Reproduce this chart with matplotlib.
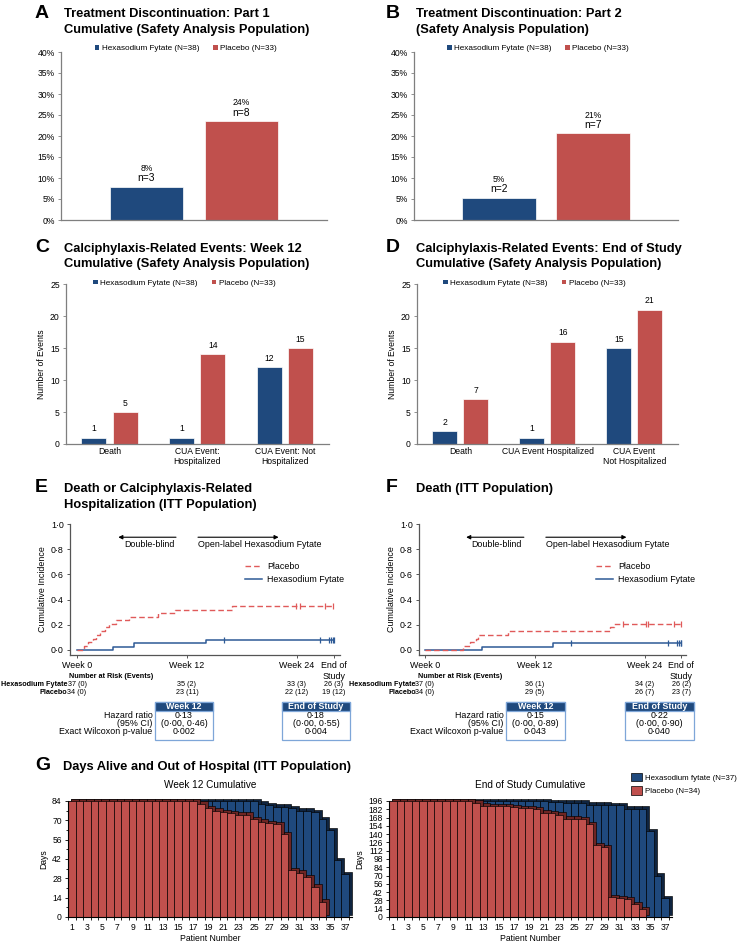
import matplotlib
matplotlib.use('Agg')
import matplotlib.pyplot as plt
import matplotlib.transforms as mtrans
from matplotlib.patches import Rectangle, Patch
from matplotlib.lines import Line2D
import numpy as np

plt.rcParams['font.family'] = ['Liberation Sans', 'DejaVu Sans']

# ---------------- data ----------------
series_names = ["Hexasodium Fytate (N=38)", "Placebo (N=33)"]

disc_p1 = [7.9, 23.5]
disc_p1_pct = ["8%", "24%"]
disc_p1_n = ["n=3", "n=8"]

disc_p2 = [5.3, 20.6]
disc_p2_pct = ["5%", "21%"]
disc_p2_n = ["n=2", "n=7"]

cats_wk12 = ["Death", "CUA Event:\nHospitalized", "CUA Event: Not\nHospitalized"]
ev_wk12_hexa = [1, 1, 12]
ev_wk12_pbo = [5, 14, 15]

cats_eos = ["Death", "CUA Event Hospitalized", "CUA Event\nNot Hospitalized"]
ev_eos_hexa = [2, 1, 15]
ev_eos_pbo = [7, 16, 21]

# KM panel E (weeks, cumulative incidence)
e_pbo_t = [0.8, 1.2, 1.7, 2.1, 2.5, 3.0, 3.5, 4.2, 5.7, 8.8, 10.7, 16.9]
e_pbo_y = [0.03, 0.06, 0.09, 0.12, 0.15, 0.18, 0.21, 0.235, 0.265, 0.295, 0.32, 0.35]
e_pbo_cens = [23.9, 24.3, 27.1, 27.9]
e_hexa_t = [3.9, 6.2, 14.1]
e_hexa_y = [0.027, 0.054, 0.08]
e_hexa_cens = [16.0, 26.5, 27.5, 27.7, 27.9, 28.0]

# KM panel F
f_pbo_t = [4.2, 4.9, 5.6, 5.8, 9.1, 20.2, 20.6]
f_pbo_y = [0.03, 0.06, 0.09, 0.12, 0.15, 0.18, 0.21]
f_pbo_cens = [21.6, 24.1, 24.4, 27.2, 28.0]
f_hexa_t = [6.2, 14.0]
f_hexa_y = [0.027, 0.054]
f_hexa_cens = [15.9, 26.5, 27.5, 27.7, 27.9, 28.0]

km_end = 28.0
km_ticks = [0, 12, 24, 28]
km_ticklabels = ["Week 0", "Week 12", "Week 24", "End of\nStudy"]
km_yticks = [0.0, 0.2, 0.4, 0.6, 0.8, 1.0]
km_yticklabels = ["0·0", "0·2", "0·4", "0·6", "0·8", "1·0"]

risk_e_hexa = ["37 (0)", "35 (2)", "33 (3)", "26 (3)"]
risk_e_pbo = ["34 (0)", "23 (11)", "22 (12)", "19 (12)"]
risk_f_hexa = ["37 (0)", "36 (1)", "34 (2)", "26 (2)"]
risk_f_pbo = ["34 (0)", "29 (5)", "26 (7)", "23 (7)"]

stat_rows = ["Hazard ratio", "(95% CI)", "Exact Wilcoxon p-value"]
e_wk12_stats = ["0·13", "(0·00, 0·46)", "0·002"]
e_eos_stats = ["0·18", "(0·00, 0·55)", "0·004"]
f_wk12_stats = ["0·15", "(0·00, 0·89)", "0·043"]
f_eos_stats = ["0·22", "(0·00, 0·90)", "0·040"]

# Days alive and out of hospital
g_wk12_hexa = [84, 84, 84, 84, 84, 84, 84, 84, 84, 84, 84, 84, 84, 84, 84, 84, 84,
               84, 84, 84, 84, 84, 84, 84, 84, 82, 81, 80, 80, 79, 77, 77, 76, 71,
               63, 41, 31]
g_wk12_pbo = [84, 84, 84, 84, 84, 84, 84, 84, 84, 84, 84, 84, 84, 84, 84, 84, 84,
              82, 79, 77, 76, 75, 74, 74, 71, 69, 68, 67, 60, 34, 32, 29, 22, 11]
g_eos_hexa = [196, 196, 196, 196, 196, 196, 196, 196, 196, 196, 196, 196, 196, 196,
              196, 196, 196, 196, 196, 196, 196, 194, 194, 193, 193, 193, 190, 190,
              190, 189, 189, 183, 183, 183, 145, 70, 32]
g_eos_pbo = [196, 196, 196, 196, 196, 196, 196, 196, 196, 196, 196, 193, 188, 187,
             187, 187, 186, 184, 184, 182, 176, 175, 173, 166, 166, 165, 157, 121,
             118, 34, 32, 30, 22, 13]
g_legend = ["Hexasodium fytate (N=37)", "Placebo (N=34)"]

# ---------------- style ----------------
W, H = 738, 943
BLUE = '#1F497D'
RED = '#C0504D'
BLUE_D = '#0F2440'
RED_D = '#6E2523'
KM_RED = '#E05A5A'
KM_BLUE = '#2E5A96'
SPINE = '#7F7F7F'
FS = 6.2

fig = plt.figure(figsize=(W / 100, H / 100), dpi=100)


def rect(x0, y0, x1, y1):
    return [x0 / W, 1 - y1 / H, (x1 - x0) / W, (y1 - y0) / H]


def ftext(x, y, s, **kw):
    kw.setdefault('va', 'center')
    fig.text(x / W, 1 - y / H, s, **kw)


def heading(x_letter, x_title, y, letter, lines):
    ftext(x_letter, y, letter, fontsize=14, fontweight='bold', ha='left')
    for i, ln in enumerate(lines):
        ftext(x_title, y + 1 + i * 15.5, ln, fontsize=9.3, fontweight='bold', ha='left')


def style_bar_axes(ax):
    for s in ['top', 'right']:
        ax.spines[s].set_visible(False)
    for s in ['left', 'bottom']:
        ax.spines[s].set_color(SPINE)
        ax.spines[s].set_linewidth(0.9)
    ax.tick_params(axis='y', labelsize=FS, length=2.5, width=0.6, color=SPINE, pad=2)
    ax.tick_params(axis='x', length=0, labelsize=FS, pad=2)


def bar_legend(ax, x, y):
    handles = [Patch(facecolor=BLUE), Patch(facecolor=RED)]
    ax.legend(handles, series_names, loc='center', bbox_to_anchor=(x, y), ncol=2,
              frameon=False, fontsize=5.9, handlelength=0.55, handleheight=0.55,
              handletextpad=0.3, columnspacing=1.7, borderpad=0, borderaxespad=0)


def pct_panel(r, vals, pct, ns):
    ax = fig.add_axes(rect(*r))
    xs = [-0.357, 0.357]
    ax.bar(xs, vals, width=0.556, color=[BLUE, RED], edgecolor='white', linewidth=0.5)
    ax.set_xlim(-1, 1)
    ax.set_ylim(0, 40)
    ax.set_yticks(range(0, 41, 5))
    ax.set_yticklabels([f"{v}%" for v in range(0, 41, 5)])
    ax.set_xticks([])
    style_bar_axes(ax)
    for x, v, p, n in zip(xs, vals, pct, ns):
        ax.annotate(n, (x, v), xytext=(0, 6.3), textcoords='offset points',
                    ha='center', va='center', fontsize=7.4)
        ax.annotate(p, (x, v), xytext=(0, 13.3), textcoords='offset points',
                    ha='center', va='center', fontsize=6.2)
    bar_legend(ax, 0.47, 1.02)
    return ax


def events_panel(r, cats, hexa, pbo):
    ax = fig.add_axes(rect(*r))
    x = np.arange(len(cats))
    ax.bar(x - 0.182, hexa, width=0.285, color=BLUE, edgecolor='white', linewidth=0.5)
    ax.bar(x + 0.176, pbo, width=0.285, color=RED, edgecolor='white', linewidth=0.5)
    for xi, v in zip(x - 0.182, hexa):
        ax.annotate(str(v), (xi, v), xytext=(0, 6.3), textcoords='offset points',
                    ha='center', va='center', fontsize=FS)
    for xi, v in zip(x + 0.176, pbo):
        ax.annotate(str(v), (xi, v), xytext=(0, 6.3), textcoords='offset points',
                    ha='center', va='center', fontsize=FS)
    ax.set_xlim(-0.5, 2.5)
    ax.set_ylim(0, 25)
    ax.set_yticks(range(0, 26, 5))
    ax.set_xticks(x)
    ax.set_xticklabels(cats, linespacing=1.15)
    ax.set_ylabel("Number of Events", fontsize=FS, labelpad=3)
    style_bar_axes(ax)
    bar_legend(ax, 0.45, 1.005)
    return ax


def km_panel(r, x_left_wk, x_right_wk, pbo_t, pbo_y, pbo_c, hx_t, hx_y, hx_c,
             leg_x, rows_hexa, rows_pbo, label_right_px, box12, boxeos, st12, steos):
    ax = fig.add_axes(rect(*r))
    pt = [0] + pbo_t + [km_end]
    py = [0] + pbo_y + [pbo_y[-1]]
    ht = [0] + hx_t + [km_end]
    hy = [0] + hx_y + [hx_y[-1]]
    ax.step(ht, hy, where='post', color=KM_BLUE, lw=1.1, zorder=3)
    ax.step(pt, py, where='post', color=KM_RED, lw=1.0, dashes=(4, 2.2), zorder=4)

    def cens_y(t, xs, ys):
        return [ys[np.searchsorted(xs, c, side='right') - 1] for c in t]
    ax.plot(hx_c, cens_y(hx_c, ht, hy), ls='none', marker='|', ms=4, mew=0.9,
            color=KM_BLUE, zorder=3)
    ax.plot(pbo_c, cens_y(pbo_c, pt, py), ls='none', marker='|', ms=4, mew=0.9,
            color=KM_RED, zorder=4)
    ax.set_xlim(x_left_wk, x_right_wk)
    ax.set_ylim(-0.04, 1.0)
    ax.set_xticks(km_ticks)
    ax.set_xticklabels(km_ticklabels, fontsize=6.4, linespacing=1.25, va='top')
    ax.set_yticks(km_yticks)
    ax.set_yticklabels(km_yticklabels, fontsize=6.4)
    ax.set_ylabel("Cumulative Incidence", fontsize=6.4, labelpad=3)
    for s in ['top', 'right']:
        ax.spines[s].set_visible(False)
    for s in ['left', 'bottom']:
        ax.spines[s].set_color('#555555')
        ax.spines[s].set_linewidth(0.9)
    ax.tick_params(length=2.5, width=0.7, color='#555555', pad=2)
    ap = dict(arrowstyle='-|>', color='black', lw=0.8, mutation_scale=6,
              shrinkA=0, shrinkB=0)
    ax.annotate("", xy=(4.5, 0.895), xytext=(10.8, 0.895), arrowprops=ap)
    ax.annotate("", xy=(22.0, 0.895), xytext=(13.2, 0.895), arrowprops=ap)
    ax.text(10.6, 0.835, "Double-blind", ha='right', va='center', fontsize=6.4)
    ax.text(13.2, 0.835, "Open-label Hexasodium Fytate", ha='left', va='center',
            fontsize=6.4)
    handles = [Line2D([], [], color=KM_RED, lw=1.0, dashes=(4, 2.2)),
               Line2D([], [], color=KM_BLUE, lw=1.1)]
    ax.legend(handles, ["Placebo", "Hexasodium Fytate"], loc='upper left',
              bbox_to_anchor=(leg_x, 0.71), frameon=False, fontsize=6.4,
              handlelength=1.9, handletextpad=0.6, labelspacing=0.5,
              borderpad=0, borderaxespad=0)
    # risk table
    tr = mtrans.blended_transform_factory(ax.transData, fig.transFigure)
    ftext(r[0] - 1, 676, "Number at Risk (Events)", fontsize=5.2, fontweight='bold',
          ha='left')
    ftext(label_right_px, 684.5, "Hexasodium Fytate", fontsize=5.2, fontweight='bold',
          ha='right')
    ftext(label_right_px, 692.5, "Placebo", fontsize=5.2, fontweight='bold', ha='right')
    for t, a, b in zip(km_ticks, rows_hexa, rows_pbo):
        ax.text(t, 1 - 684.5 / H, a, transform=tr, ha='center', va='center', fontsize=5.2)
        ax.text(t, 1 - 692.5 / H, b, transform=tr, ha='center', va='center', fontsize=5.2)
    # stats boxes
    lab_x = box12[0] - 2.5
    for i, s in enumerate(stat_rows):
        ftext(lab_x, 716 + i * 8, s, fontsize=6.4, ha='right')
    for (bx0, bx1), title, vals in [(box12, "Week 12", st12), (boxeos, "End of Study", steos)]:
        fig.patches.append(Rectangle((bx0 / W, 1 - 740 / H), (bx1 - bx0) / W, 38 / H,
                                     transform=fig.transFigure, facecolor='white',
                                     edgecolor='#7EA6D8', lw=0.9))
        fig.patches.append(Rectangle((bx0 / W, 1 - 711 / H), (bx1 - bx0) / W, 9 / H,
                                     transform=fig.transFigure, facecolor=BLUE,
                                     edgecolor='#7EA6D8', lw=0.9))
        cx = (bx0 + bx1) / 2
        ftext(cx, 706.5, title, fontsize=6.4, fontweight='bold', color='white', ha='center')
        for i, v in enumerate(vals):
            ftext(cx, 716 + i * 8, v, fontsize=6.4, ha='center')
    return ax


def g_panel(r, hexa, pbo, ymax, ystep, minor, title, dy):
    ax = fig.add_axes(rect(*r))
    xh = np.arange(1, len(hexa) + 1)
    xp = np.arange(1, len(pbo) + 1)
    dx = 0.4
    kw = dict(width=1.0, edgecolor='black', linewidth=0.45, clip_on=False)
    ax.bar(xh + dx, hexa, bottom=dy, color=BLUE_D, **kw)
    ax.bar(xh, hexa, color=BLUE, **kw)
    ax.bar(xp + dx, pbo, bottom=dy, color=RED_D, **kw)
    ax.bar(xp, pbo, color=RED, **kw)
    ax.set_xlim(0.5, 37.9)
    ax.set_ylim(0, ymax)
    ax.set_yticks(np.arange(0, ymax + 1, ystep))
    if minor:
        ax.set_yticks(np.arange(7, ymax, 14), minor=True)
    odd = np.arange(1, 38, 2)
    ax.set_xticks(odd)
    ax.set_xticklabels([str(v) for v in odd])
    ax.set_xticks(np.arange(0.5, 38, 1.0), minor=True)
    ax.tick_params(axis='x', which='major', length=0, labelsize=FS, pad=4)
    ax.tick_params(axis='x', which='minor', length=2.5, width=0.6)
    ax.tick_params(axis='y', which='both', labelsize=FS, length=2.5, width=0.6, pad=2)
    ax.tick_params(axis='y', which='minor', length=1.6)
    for s in ['top', 'right']:
        ax.spines[s].set_visible(False)
    ax.spines['left'].set_linewidth(0.8)
    ax.spines['bottom'].set_linewidth(0.8)
    ax.set_xlabel("Patient Number", fontsize=FS, labelpad=2)
    ax.set_ylabel("Days", fontsize=FS, labelpad=3)
    ax.set_title(title, fontsize=7.2, pad=9)
    return ax


# ---------------- A, B ----------------
heading(35, 64, 13, "A", ["Treatment Discontinuation: Part 1",
                         "Cumulative (Safety Analysis Population)"])
pct_panel((61, 52, 327, 220), disc_p1, disc_p1_pct, disc_p1_n)
heading(386, 416, 13, "B", ["Treatment Discontinuation: Part 2",
                           "(Safety Analysis Population)"])
pct_panel((414, 52, 678, 220), disc_p2, disc_p2_pct, disc_p2_n)

# ---------------- C, D ----------------
heading(35, 64, 248, "C", ["Calciphylaxis-Related Events: Week 12",
                          "Cumulative (Safety Analysis Population)"])
events_panel((66, 284, 329, 444), cats_wk12, ev_wk12_hexa, ev_wk12_pbo)
heading(386, 416, 248, "D", ["Calciphylaxis-Related Events: End of Study",
                            "Cumulative (Safety Analysis Population)"])
events_panel((417, 284, 678, 444), cats_eos, ev_eos_hexa, ev_eos_pbo)

# ---------------- E, F ----------------
heading(35, 64, 488, "E", ["Death or Calciphylaxis-Related",
                          "Hospitalization (ITT Population)"])
km_panel((70, 524, 340, 655), -0.77, 28.7, e_pbo_t, e_pbo_y, e_pbo_cens,
         e_hexa_t, e_hexa_y, e_hexa_cens, 0.648, risk_e_hexa, risk_e_pbo, 67.5,
         (155, 213), (282, 350), e_wk12_stats, e_eos_stats)
heading(386, 416, 488, "F", ["Death (ITT Population)"])
km_panel((419, 524, 686, 655), -0.65, 28.5, f_pbo_t, f_pbo_y, f_pbo_cens,
         f_hexa_t, f_hexa_y, f_hexa_cens, 0.663, risk_f_hexa, risk_f_pbo, 416,
         (506, 565), (625, 694), f_wk12_stats, f_eos_stats)

# ---------------- G ----------------
ftext(35, 765, "G", fontsize=14, fontweight='bold', ha='left')
ftext(63, 767, "Days Alive and Out of Hospital (ITT Population)", fontsize=9.3,
      fontweight='bold', ha='left')
g_panel((68, 801, 352, 917), g_wk12_hexa, g_wk12_pbo, 84, 14, True,
        "Week 12 Cumulative", 1.7)
axg = g_panel((389, 801, 672, 917), g_eos_hexa, g_eos_pbo, 196, 14, False,
              "End of Study Cumulative", 4.0)
axg.legend([Patch(facecolor=BLUE, edgecolor='black', lw=0.5),
            Patch(facecolor=RED, edgecolor='black', lw=0.5)], g_legend,
           loc='upper left', bbox_to_anchor=(0.855, 1.245), frameon=False,
           fontsize=5.7, handlelength=1.4, handleheight=1.3, handletextpad=0.35,
           labelspacing=0.55, borderpad=0, borderaxespad=0)

fig.savefig('out.png', dpi=100)
